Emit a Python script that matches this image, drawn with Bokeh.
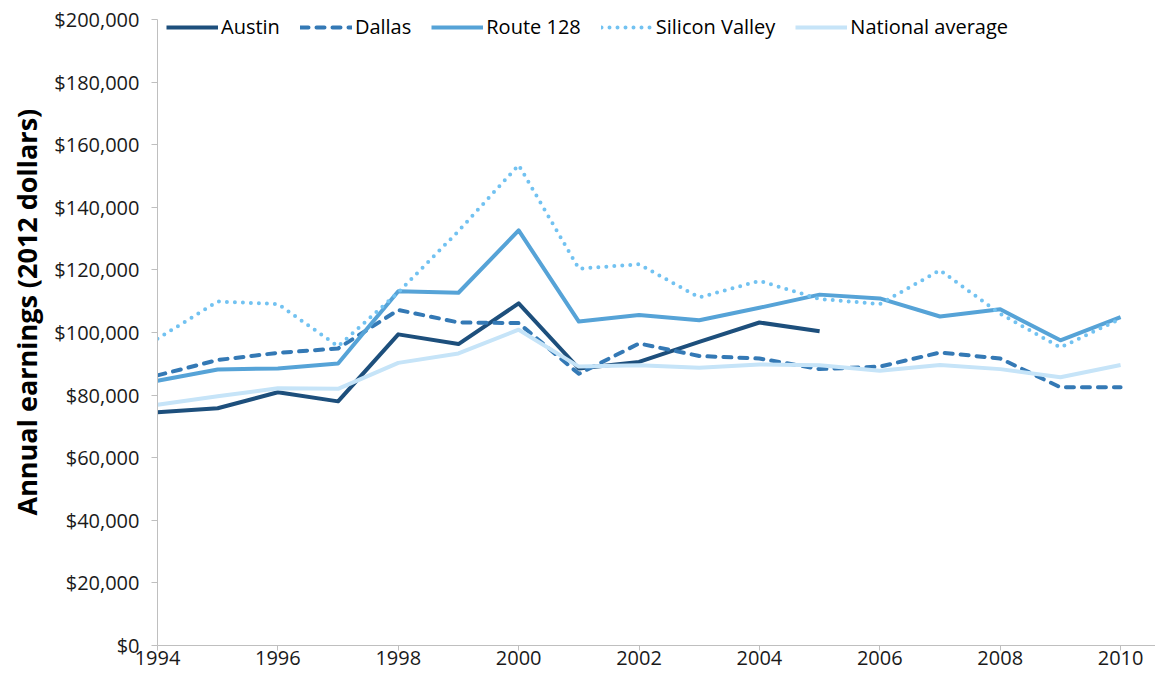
from bokeh.plotting import figure
from bokeh.models import Range1d, Legend, LegendItem, Title, NumeralTickFormatter, FixedTicker
from bokeh.embed import file_html
from bokeh.resources import INLINE

years = list(range(1994, 2011))
austin_years = list(range(1994, 2006))
austin = [74500, 75800, 80900, 78000, 99400, 96300, 109300, 88500, 90600, 97000, 103200, 100400]
dallas = [86300, 91200, 93500, 94900, 107200, 103200, 103000, 86800, 96500, 92500, 91700, 88300,
          89100, 93600, 91700, 82500, 82500]
route128 = [84600, 88200, 88500, 90100, 113200, 112700, 132600, 103500, 105600, 103900, 107900, 112100,
            110900, 105100, 107400, 97500, 104900]
silicon_valley = [98000, 109900, 109100, 95600, 112800, 132400, 153500, 120400, 121800, 111200, 116500, 110700,
                  109100, 119900, 106000, 95200, 104400]
national = [76900, 79600, 82200, 82000, 90300, 93300, 100900, 89100, 89500, 88700, 89800, 89500,
            87800, 89600, 88300, 85700, 89600]

series_names = ["Austin", "Dallas", "Route 128", "Silicon Valley", "National average"]
x_ticks = list(range(1994, 2011, 2))
y_ticks = list(range(0, 200001, 20000))

FONT = "Open Sans"

p = figure(width=1155, height=676, output_backend="svg", toolbar_location=None,
           x_range=Range1d(1994, 2010.58), y_range=Range1d(0, 200000),
           min_border_left=157, min_border_right=0, min_border_top=19, min_border_bottom=31)
p.outline_line_color = None
p.xgrid.grid_line_color = None
p.ygrid.grid_line_color = None

for ax in (p.xaxis[0], p.yaxis[0]):
    ax.axis_line_color = "#bfbfbf"
    ax.major_tick_line_color = "#bfbfbf"
    ax.minor_tick_line_color = None
    ax.major_tick_in = 0
    ax.major_label_text_font = FONT
    ax.major_label_text_font_size = "20px"
    ax.major_label_text_color = "#1a1a1a"

p.xaxis.ticker = FixedTicker(ticks=x_ticks)
p.xaxis.major_tick_out = 5
p.xaxis.major_label_standoff = 0
p.yaxis.ticker = FixedTicker(ticks=y_ticks)
p.yaxis.major_tick_out = 6
p.yaxis.major_label_standoff = 12
p.yaxis.formatter = NumeralTickFormatter(format="$0,0")

r_austin = p.line(austin_years, austin, line_color="#1d4f7c", line_width=4, line_join="round")
r_dallas = p.line(years, dallas, line_color="#3479b5", line_width=4, line_dash="8 8",
                  line_cap="round", line_join="round")
r_route = p.line(years, route128, line_color="#56a3d7", line_width=4, line_join="round")
r_sv = p.line(years, silicon_valley, line_color="#72c2f1", line_width=4, line_dash="0 8",
              line_cap="round", line_join="round")
r_nat = p.line(years, national, line_color="#c6e4f8", line_width=4, line_join="round")

renderers = [r_austin, r_dallas, r_route, r_sv, r_nat]
legend = Legend(items=[LegendItem(label=n, renderers=[r]) for n, r in zip(series_names, renderers)],
                orientation="horizontal", location=(9, 605),
                glyph_width=52, glyph_height=20, label_standoff=3, spacing=20,
                padding=0, margin=0, border_line_color=None, background_fill_alpha=0,
                label_text_font=FONT, label_text_font_size="20px", label_text_color="#000000")
p.add_layout(legend, "center")

ytitle = Title(text="Annual earnings (2012 dollars)", align="left", offset=130,
               vertical_align="top", standoff=10,
               text_font=FONT, text_font_style="bold", text_font_size="27px", text_color="#000000")
p.add_layout(ytitle, "left")

open("out.html", "w").write(file_html(p, INLINE))
